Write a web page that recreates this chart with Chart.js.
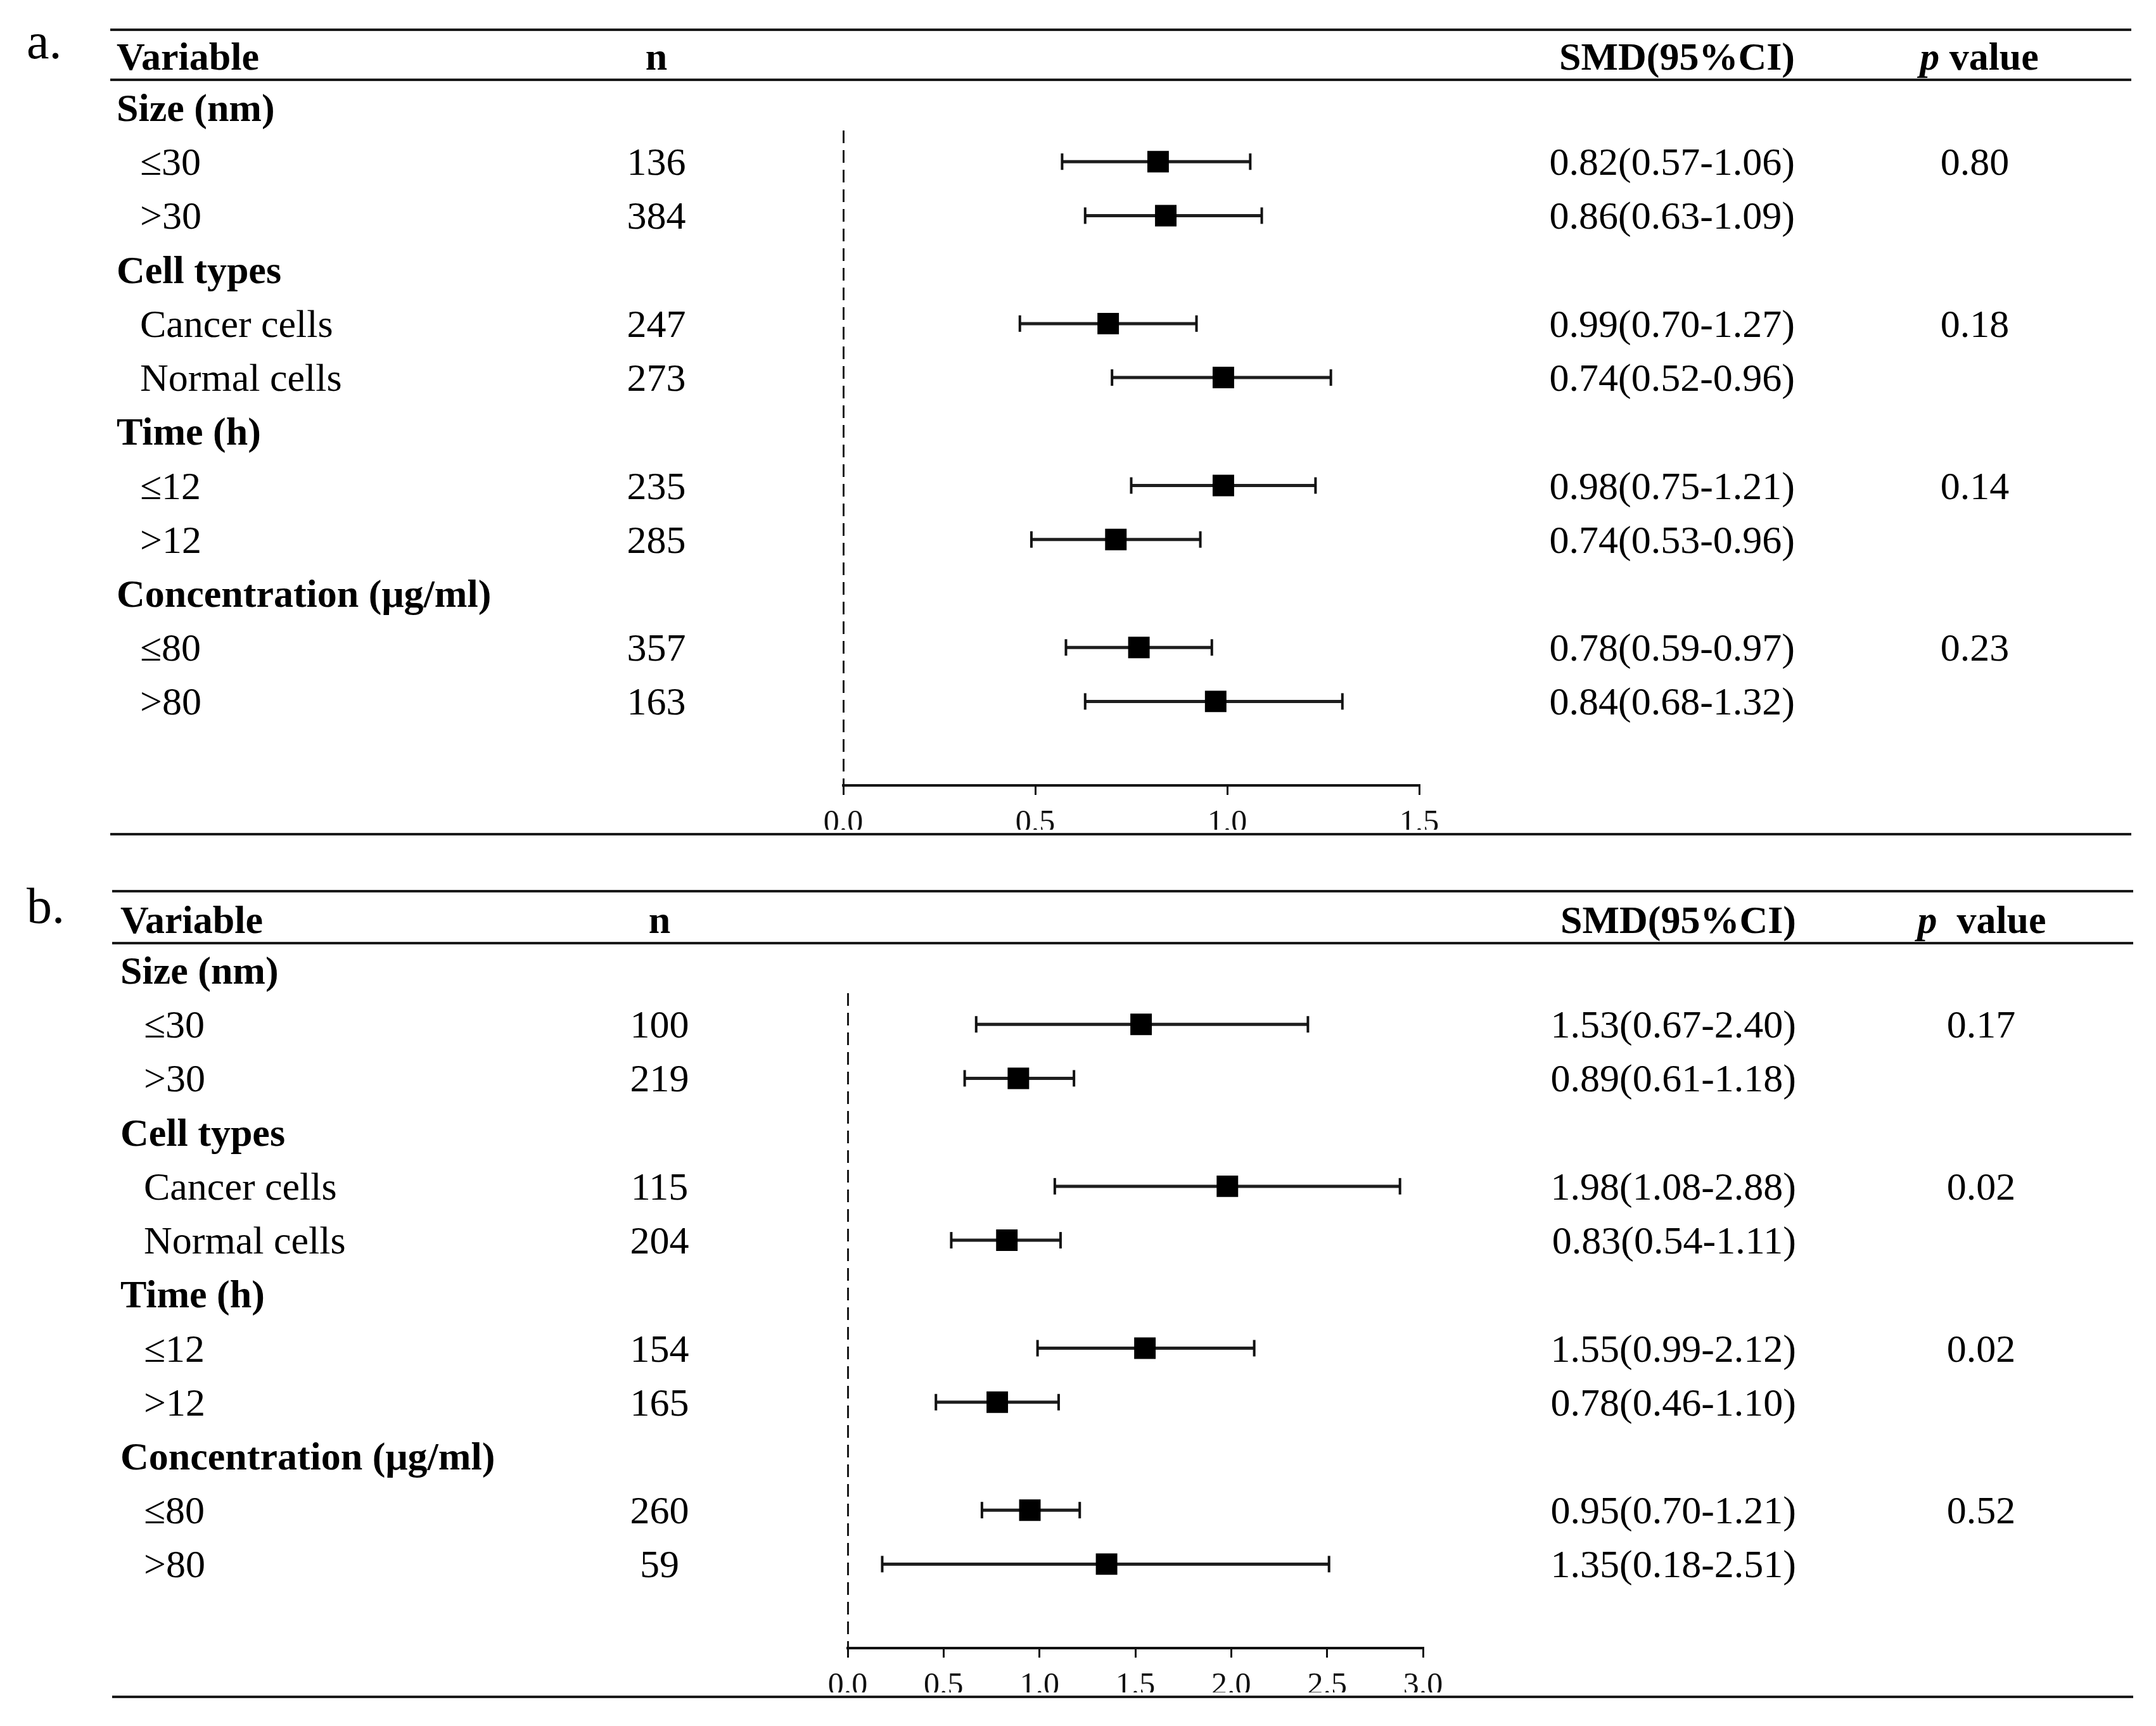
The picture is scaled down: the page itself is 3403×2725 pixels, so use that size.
<!DOCTYPE html>
<html>
<head>
<meta charset="utf-8">
<script src="https://cdn.jsdelivr.net/npm/chart.js@4.4.1/dist/chart.umd.min.js"></script>
<style>
  html, body { margin: 0; padding: 0; background: #fff; }
  canvas { display: block; }
</style>
</head>
<body>
<canvas id="chartA" width="3403" height="1362"></canvas>
<canvas id="chartB" width="3403" height="1363"></canvas>
<script>
// rows shared by both panels
const groups = ['Size (nm)', 'Cell types', 'Time (h)', 'Concentration (μg/ml)'];
const subgroups = ['≤30', '>30', 'Cancer cells', 'Normal cells', '≤12', '>12', '≤80', '>80'];

// panel a
const nA = [136, 384, 247, 273, 235, 285, 357, 163];
const smdTextA = ['0.82(0.57-1.06)', '0.86(0.63-1.09)', '0.99(0.70-1.27)', '0.74(0.52-0.96)',
                  '0.98(0.75-1.21)', '0.74(0.53-0.96)', '0.78(0.59-0.97)', '0.84(0.68-1.32)'];
const pTextA = ['0.80', '0.18', '0.14', '0.23'];
const estA = [0.82, 0.84, 0.69, 0.99, 0.99, 0.71, 0.77, 0.97];
const lowA = [0.57, 0.63, 0.46, 0.70, 0.75, 0.49, 0.58, 0.63];
const highA = [1.06, 1.09, 0.92, 1.27, 1.23, 0.93, 0.96, 1.30];
const ticksA = [0, 0.5, 1.0, 1.5];

// panel b
const nB = [100, 219, 115, 204, 154, 165, 260, 59];
const smdTextB = ['1.53(0.67-2.40)', '0.89(0.61-1.18)', '1.98(1.08-2.88)', '0.83(0.54-1.11)',
                  '1.55(0.99-2.12)', '0.78(0.46-1.10)', '0.95(0.70-1.21)', '1.35(0.18-2.51)'];
const pTextB = ['0.17', '0.02', '0.02', '0.52'];
const estB = [1.53, 0.89, 1.98, 0.83, 1.55, 0.78, 0.95, 1.35];
const lowB = [0.67, 0.61, 1.08, 0.54, 0.99, 0.46, 0.70, 0.18];
const highB = [2.40, 1.18, 2.88, 1.11, 2.12, 1.10, 1.21, 2.51];
const ticksB = [0, 0.5, 1.0, 1.5, 2.0, 2.5, 3.0];

const FONT = '"Liberation Serif", "Times New Roman", serif';

// row index on the y scale: group g sits at 3g, its two subgroups below it
const rowOf = k => 3 * Math.floor(k / 2) + 1 + (k % 2);

function tablePlugin(p) {
  return {
    id: 'forestTable',
    afterDraw(chart) {
      const ctx = chart.ctx;
      const y = chart.scales.y;
      const base = i => y.getPixelForValue(i) + 21;
      ctx.save();

      // horizontal rules
      ctx.strokeStyle = '#1a1a1a';
      ctx.lineWidth = 4;
      [p.topRule, p.headRule, p.bottomRule].forEach(yy => {
        ctx.beginPath();
        ctx.moveTo(p.ruleL, yy);
        ctx.lineTo(p.ruleR, yy);
        ctx.stroke();
      });

      ctx.fillStyle = '#000';
      ctx.textBaseline = 'alphabetic';

      // panel letter
      ctx.font = '80px ' + FONT;
      ctx.textAlign = 'left';
      ctx.fillText(p.label, 42, p.labelBase);

      // header
      ctx.font = 'bold 62px ' + FONT;
      ctx.fillText('Variable', p.groupX, p.headBase);
      ctx.textAlign = 'center';
      ctx.fillText('n', p.nX, p.headBase);
      ctx.textAlign = 'right';
      ctx.fillText('SMD(95%CI)', p.smdR, p.headBase);
      ctx.textAlign = 'left';
      ctx.font = 'italic bold 62px ' + FONT;
      const wp = ctx.measureText('p').width;
      ctx.font = 'bold 62px ' + FONT;
      const wv = ctx.measureText(p.valueWord).width;
      const x0 = p.pHeadX - (wp + wv) / 2;
      ctx.font = 'italic bold 62px ' + FONT;
      ctx.fillText('p', x0, p.headBase);
      ctx.font = 'bold 62px ' + FONT;
      ctx.fillText(p.valueWord, x0 + wp, p.headBase);

      // group rows
      groups.forEach((g, gi) => {
        ctx.textAlign = 'left';
        ctx.font = 'bold 62px ' + FONT;
        ctx.fillText(g, p.groupX, base(3 * gi));
        ctx.font = '62px ' + FONT;
        ctx.textAlign = 'center';
        ctx.fillText(p.pText[gi], p.pX, base(3 * gi + 1));
      });

      // subgroup rows
      ctx.font = '62px ' + FONT;
      subgroups.forEach((s, k) => {
        const b = base(rowOf(k));
        ctx.textAlign = 'left';
        ctx.fillText(s, p.subX, b);
        ctx.textAlign = 'center';
        ctx.fillText(String(p.n[k]), p.nX, b);
        ctx.textAlign = 'right';
        ctx.fillText(p.smd[k], p.smdR, b);
      });
      ctx.restore();
    }
  };
}

function makeChart(id, p) {
  const canvas = document.getElementById(id);
  const H = canvas.height;
  const ciLines = [];
  p.low.forEach((lo, k) => {
    ciLines.push({ x: lo, y: rowOf(k) }, { x: p.high[k], y: rowOf(k) }, { x: NaN, y: NaN });
  });
  const caps = [];
  p.low.forEach((lo, k) => {
    caps.push({ x: lo, y: rowOf(k) }, { x: p.high[k], y: rowOf(k) });
  });

  return new Chart(canvas, {
    type: 'scatter',
    data: {
      datasets: [
        {
          label: 'SMD',
          data: p.est.map((v, k) => ({ x: v, y: rowOf(k) })),
          pointStyle: 'rect',
          pointRadius: 24,
          backgroundColor: '#000',
          borderWidth: 0
        },
        {
          label: 'caps',
          data: caps,
          pointStyle: 'line',
          pointRotation: 90,
          pointRadius: 13,
          borderColor: '#111',
          borderWidth: 4
        },
        {
          label: '95% CI',
          data: ciLines,
          showLine: true,
          spanGaps: false,
          pointRadius: 0,
          borderColor: '#1e1e1e',
          borderWidth: 5
        }
      ]
    },
    options: {
      responsive: false,
      devicePixelRatio: 1,
      animation: false,
      events: [],
      layout: {
        padding: { left: p.chartL, right: canvas.width - p.chartR, top: 206, bottom: H - 1240 - 70 }
      },
      plugins: {
        legend: { display: false },
        tooltip: { enabled: false }
      },
      scales: {
        x: {
          type: 'linear',
          min: 0,
          max: p.max,
          afterBuildTicks: axis => { axis.ticks = p.ticks.map(v => ({ value: v })); },
          afterFit: axis => { axis.height = 70; },
          ticks: {
            callback: v => v.toFixed(1),
            font: { family: FONT, size: 50 },
            color: '#111',
            padding: 15,
            maxRotation: 0,
            autoSkip: false
          },
          grid: {
            drawOnChartArea: true,
            color: c => (c.tick && c.tick.value === 0 ? '#1a1a1a' : 'rgba(0,0,0,0)'),
            lineWidth: 3,
            tickColor: '#111',
            tickLength: 15,
            tickWidth: 3
          },
          border: { display: true, color: '#111', width: 4, dash: [20, 11] }
        },
        y: {
          type: 'linear',
          display: false,
          reverse: true,
          min: 0.4224,
          max: 12.556
        }
      }
    },
    plugins: [tablePlugin(p)]
  });
}

makeChart('chartA', {
  label: 'a.', labelBase: 92,
  n: nA, smd: smdTextA, pText: pTextA, est: estA, low: lowA, high: highA,
  ticks: ticksA, max: 1.5,
  chartL: 1331, chartR: 2240,
  ruleL: 174, ruleR: 3364, topRule: 47, headRule: 126, bottomRule: 1317,
  headBase: 110, groupX: 184, subX: 221, nX: 1036, smdR: 2833, pX: 3117, pHeadX: 3124,
  valueWord: ' value'
});

makeChart('chartB', {
  label: 'b.', labelBase: 95,
  n: nB, smd: smdTextB, pText: pTextB, est: estB, low: lowB, high: highB,
  ticks: ticksB, max: 3.0,
  chartL: 1338, chartR: 2246,
  ruleL: 177, ruleR: 3367, topRule: 45, headRule: 127, bottomRule: 1317,
  headBase: 111, groupX: 190, subX: 227, nX: 1041, smdR: 2835, pX: 3127, pHeadX: 3128,
  valueWord: '  value'
});
</script>
</body>
</html>
